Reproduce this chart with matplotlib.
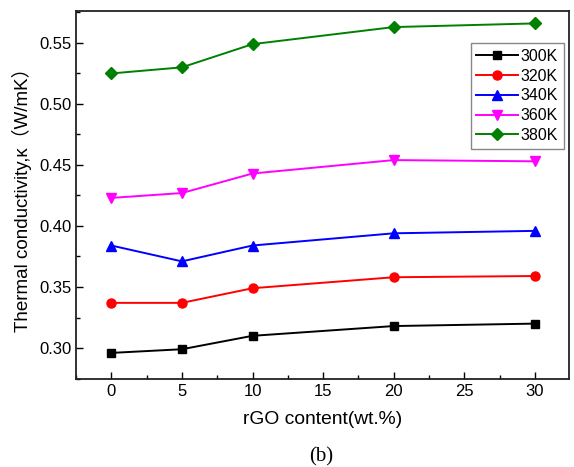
import numpy as np
import matplotlib
matplotlib.use("Agg")
from matplotlib import pyplot as plt
from matplotlib.ticker import MultipleLocator

plt.rcParams['font.family'] = ['Liberation Sans', 'Noto Sans CJK SC', 'DejaVu Sans']

content = [0, 5, 10, 20, 30]
temps = ['300K', '320K', '340K', '360K', '380K']
k300 = [0.296, 0.299, 0.310, 0.318, 0.320]
k320 = [0.337, 0.337, 0.349, 0.358, 0.359]
k340 = [0.384, 0.371, 0.384, 0.394, 0.396]
k360 = [0.423, 0.427, 0.443, 0.454, 0.453]
k380 = [0.525, 0.530, 0.549, 0.563, 0.566]

series = [k300, k320, k340, k360, k380]
colors = ['black', 'red', 'blue', 'magenta', 'green']
markers = ['s', 'o', '^', 'v', 'D']
msizes = [6, 6.5, 7, 7, 6]

fig = plt.figure(figsize=(5.74, 4.67), dpi=100)
ax = fig.add_axes([0.1324, 0.1884, 0.8586, 0.7876])

for vals, lab, c, m, ms in zip(series, temps, colors, markers, msizes):
    ax.plot(content, vals, color=c, marker=m, markersize=ms, linewidth=1.4, label=lab)

ax.set_xlim(-2.5, 32.4)
ax.set_ylim(0.2746, 0.576)
ax.xaxis.set_major_locator(MultipleLocator(5))
ax.xaxis.set_minor_locator(MultipleLocator(2.5))
ax.yaxis.set_major_locator(MultipleLocator(0.05))
ax.yaxis.set_minor_locator(MultipleLocator(0.025))
ax.yaxis.set_major_formatter(plt.FormatStrFormatter('%.2f'))
ax.tick_params(which='both', direction='in', labelsize=12, colors='black')
ax.tick_params(which='major', length=5, width=1)
ax.tick_params(which='minor', length=3, width=1)
for s in ax.spines.values():
    s.set_linewidth(1.3)
    s.set_color('#222222')

ax.set_xlabel('rGO content(wt.%)', fontsize=13.9, labelpad=9)
ax.set_ylabel('Thermal conductivity,\u03ba\uff08W/mK\uff09', fontsize=13.5, labelpad=5)

leg = ax.legend(loc='upper right', bbox_to_anchor=(0.99, 0.913), fontsize=11.5,
                handlelength=2.6, handletextpad=0.2, labelspacing=0.3,
                borderpad=0.35, fancybox=False, framealpha=1, borderaxespad=0)
leg.get_frame().set_edgecolor('#888888')
leg.get_frame().set_linewidth(1)

fig.text(0.559, 0.021, '(b)', fontsize=15, family='Liberation Serif', ha='center', va='center')

fig.savefig('out.png', dpi=100)
